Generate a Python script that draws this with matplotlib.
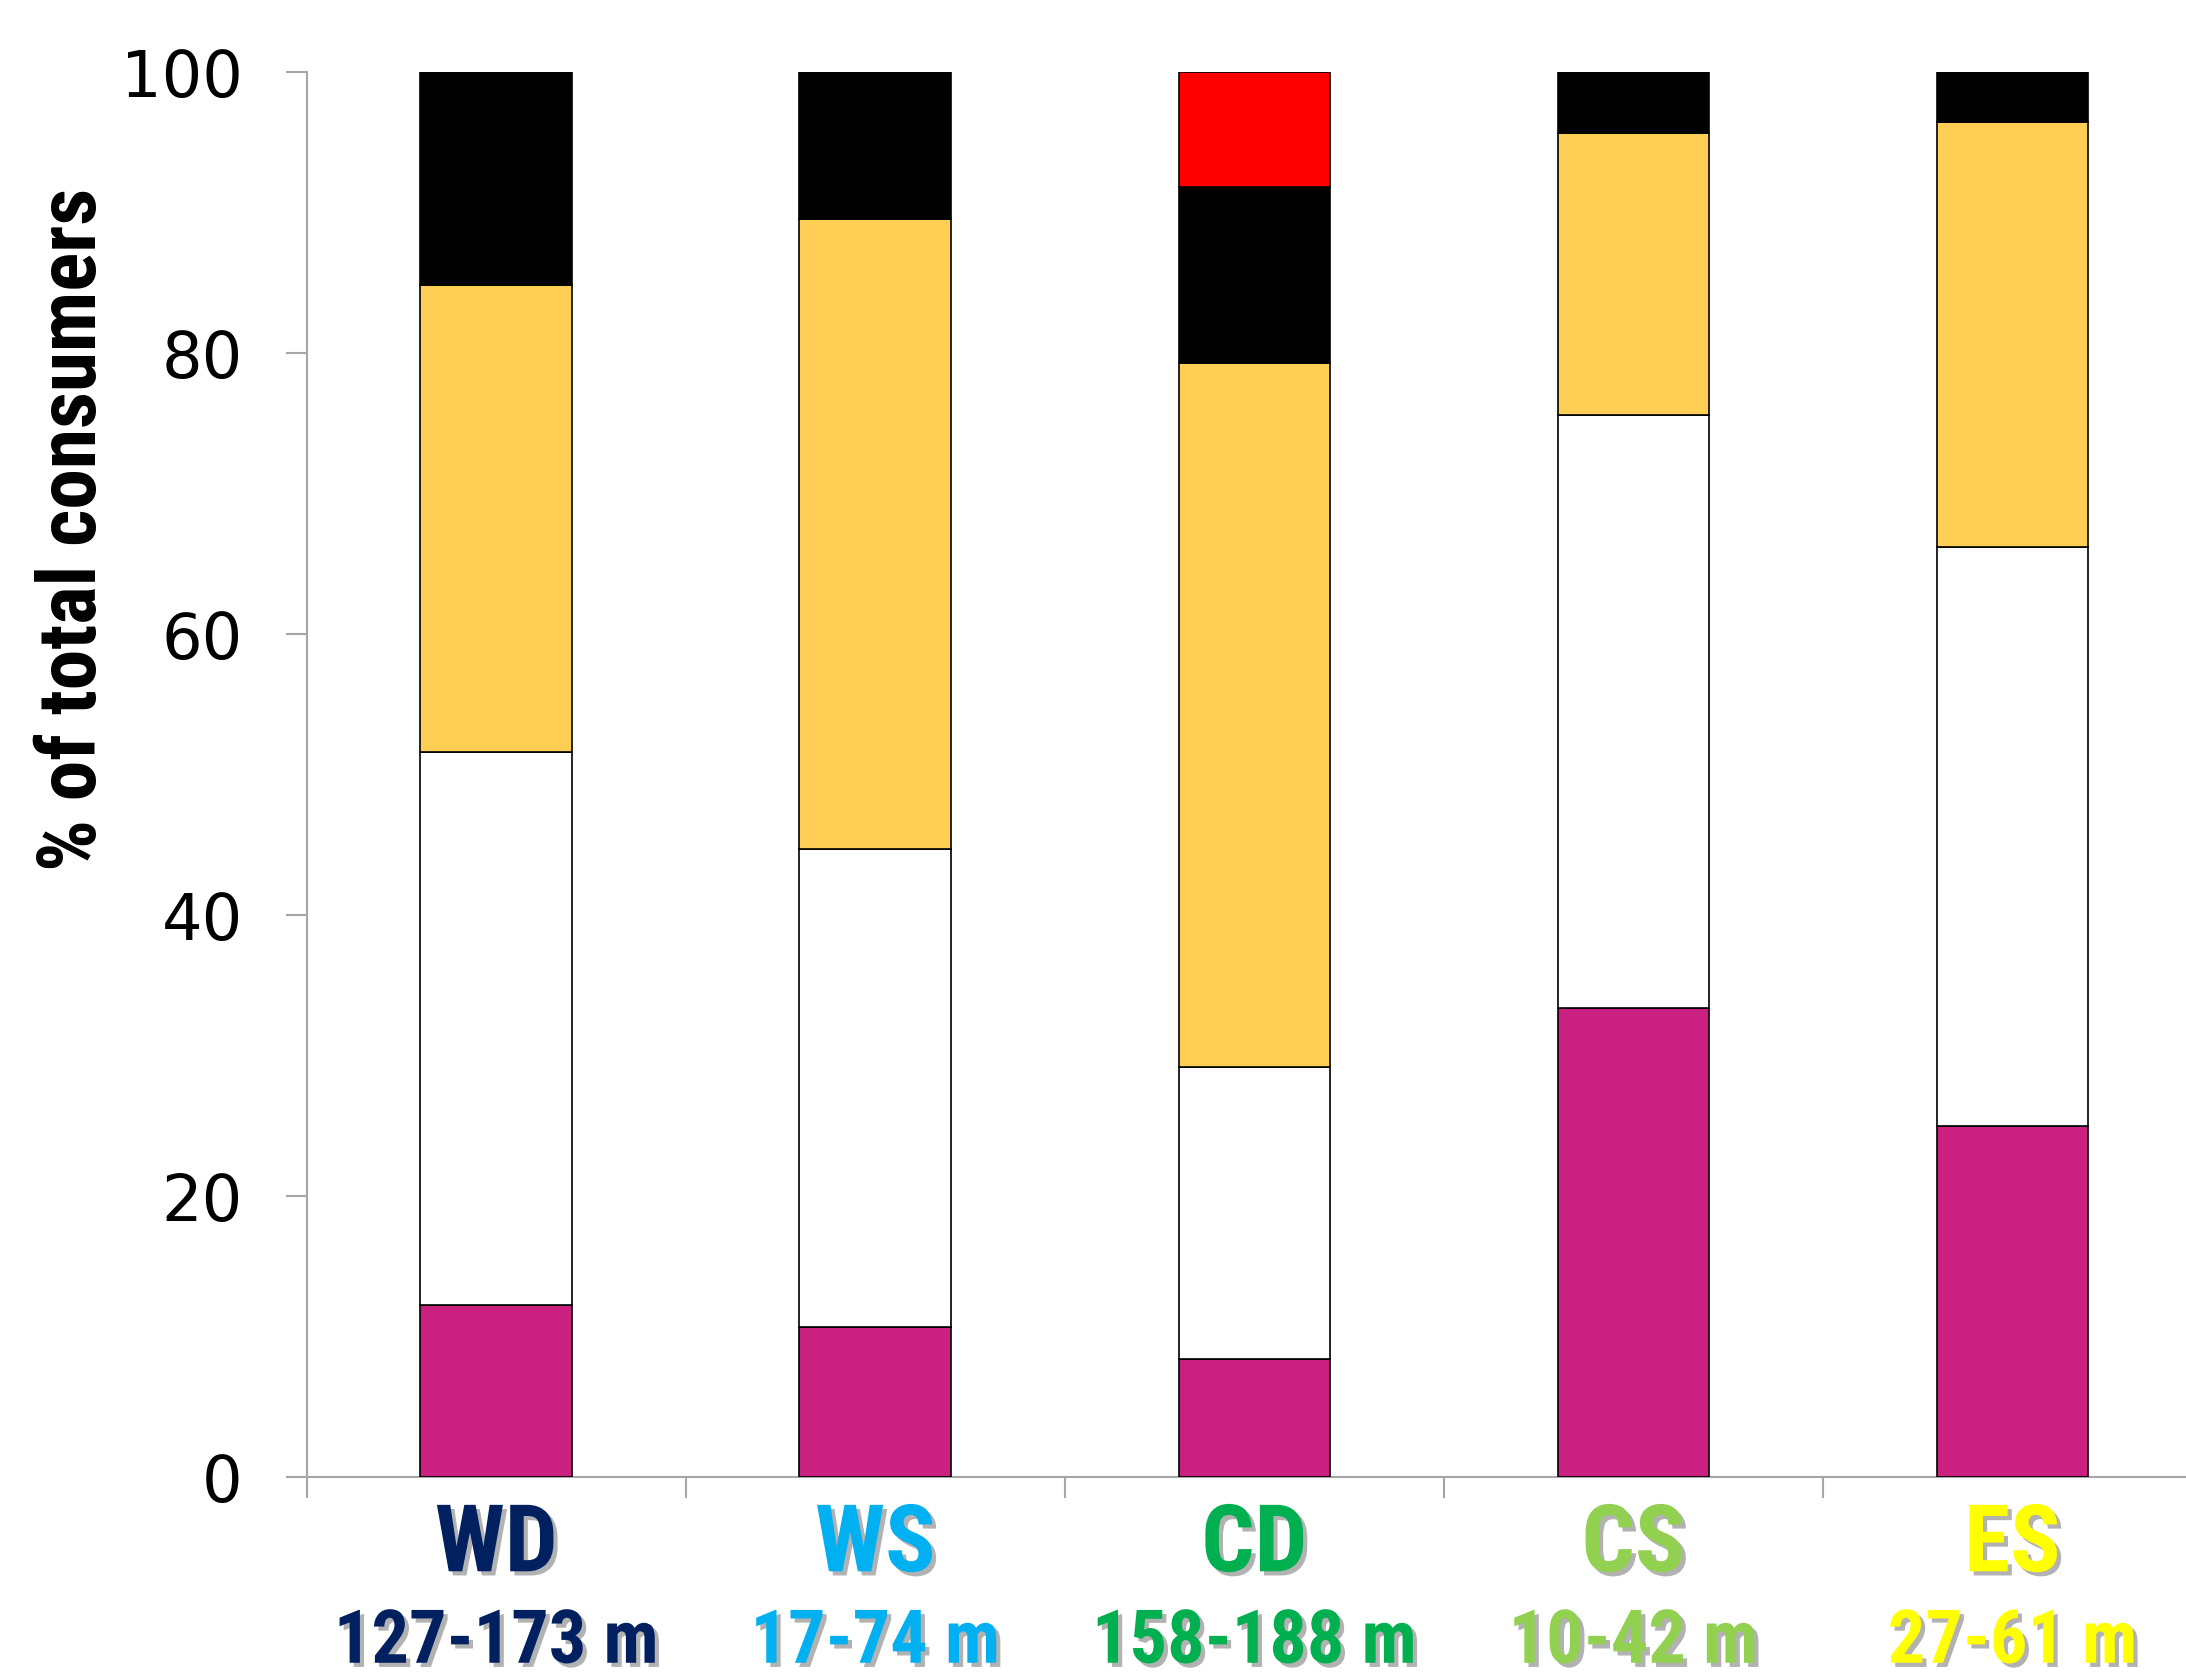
import matplotlib.pyplot as plt
import matplotlib.patheffects as pe
from matplotlib import font_manager

# dados (% do total de consumidores, por segmento)
sites = ["WD", "WS", "CD", "CS", "ES"]
depths = ["127-173 m", "17-74 m", "158-188 m", "10-42 m", "27-61 m"]
site_colors = ["#002060", "#00B0F0", "#00B050", "#92D050", "#FFFF00"]

magenta = [12.2, 10.7, 8.4, 33.4, 25.0]
white = [39.4, 34.0, 20.8, 42.2, 41.2]
yellow = [33.2, 44.8, 50.1, 20.0, 30.2]
black = [15.2, 10.5, 12.5, 4.4, 3.6]
red = [0.0, 0.0, 8.2, 0.0, 0.0]

series = [magenta, white, yellow, black, red]
seg_colors = ["#CA2180", "#FFFFFF", "#FFCE55", "#000000", "#FF0000"]


def fonte_condensada():
    """Escolhe a fonte bold mais estreita disponível (ordem de preferência)."""
    preferidas = ["Liberation Sans Narrow", "Roboto Condensed", "Open Sans Condensed",
                  "Noto Sans", "Open Sans", "Roboto", "DejaVu Sans"]
    melhores = []
    for f in font_manager.fontManager.ttflist:
        peso = f.weight if isinstance(f.weight, int) else 700 if "bold" in str(f.weight) else 400
        if peso < 600 or f.style != "normal":
            continue
        estreita = ("condensed" in str(f.stretch) and "semi" not in str(f.stretch)) \
            or "Narrow" in f.name or "Condensed" in f.name
        if not estreita:
            continue
        rank = len(preferidas)
        for k, nome in enumerate(preferidas):
            if f.name.startswith(nome):
                rank = k
                break
        melhores.append((rank, abs(peso - 700), f.fname))
    if melhores:
        melhores.sort()
        return font_manager.FontProperties(fname=melhores[0][2])
    return font_manager.FontProperties(family="Roboto", weight="bold")


fp_base = fonte_condensada()


def fp(tam):
    p = fp_base.copy()
    p.set_size(tam)
    return p


fig = plt.figure(figsize=(21.86, 16.81), dpi=100)
ax = fig.add_axes([0.1403, 0.1208, 0.867, 0.836])

x = list(range(len(sites)))
bottom = [0.0] * len(sites)
for vals, cor in zip(series, seg_colors):
    ax.bar(x, vals, bottom=bottom, width=0.4, color=cor,
           edgecolor="black", linewidth=1.2, zorder=3)
    bottom = [b + v for b, v in zip(bottom, vals)]

ax.set_xlim(-0.5, len(sites) - 0.5)
ax.set_ylim(0, 100)
ax.set_yticks([0, 20, 40, 60, 80, 100])
ax.set_xticks([i - 0.5 for i in range(len(sites) + 1)])
ax.set_xticklabels([])

for s in ["top", "right"]:
    ax.spines[s].set_visible(False)
for s in ["left", "bottom"]:
    ax.spines[s].set_color("#A6A6A6")
    ax.spines[s].set_linewidth(1.5)

ax.tick_params(axis="y", direction="out", length=15, width=1.5,
               color="#A6A6A6", labelsize=46, pad=31)
ax.tick_params(axis="x", direction="out", length=15, width=1.5,
               color="#A6A6A6")

renderer = fig.canvas.get_renderer()


def ajustar(texto, alvo_px, vertical=False):
    """Redimensiona a fonte para o texto ocupar alvo_px de comprimento."""
    bb = texto.get_window_extent(renderer)
    atual = bb.height if vertical else bb.width
    texto.set_fontsize(texto.get_fontsize() * alvo_px / atual)


ylab = fig.text(0.034, 0.685, "% of total consumers", rotation=90,
                ha="center", va="center", fontproperties=fp(50))
ajustar(ylab, 683, vertical=True)

sombra = [pe.withSimplePatchShadow(offset=(3, -3), shadow_rgbFace="#7F7F7F", alpha=0.6)]
linha1, linha2 = [], []
for i, (site, prof, cor) in enumerate(zip(sites, depths, site_colors)):
    linha1.append(ax.text(i, -4.9, site, ha="center", va="center",
                          fontproperties=fp(50), color=cor,
                          path_effects=sombra, clip_on=False))
    linha2.append(ax.text(i, -11.8, prof, ha="center", va="center",
                          fontproperties=fp(50), color=cor,
                          path_effects=sombra, clip_on=False))

# tamanho comum por linha, calibrado pela largura de "WD" e "127-173 m"
ajustar(linha1[0], 123)
ajustar(linha2[0], 325)
for t in linha1[1:]:
    t.set_fontsize(linha1[0].get_fontsize())
for t in linha2[1:]:
    t.set_fontsize(linha2[0].get_fontsize())

fig.savefig("out.png", dpi=100)
